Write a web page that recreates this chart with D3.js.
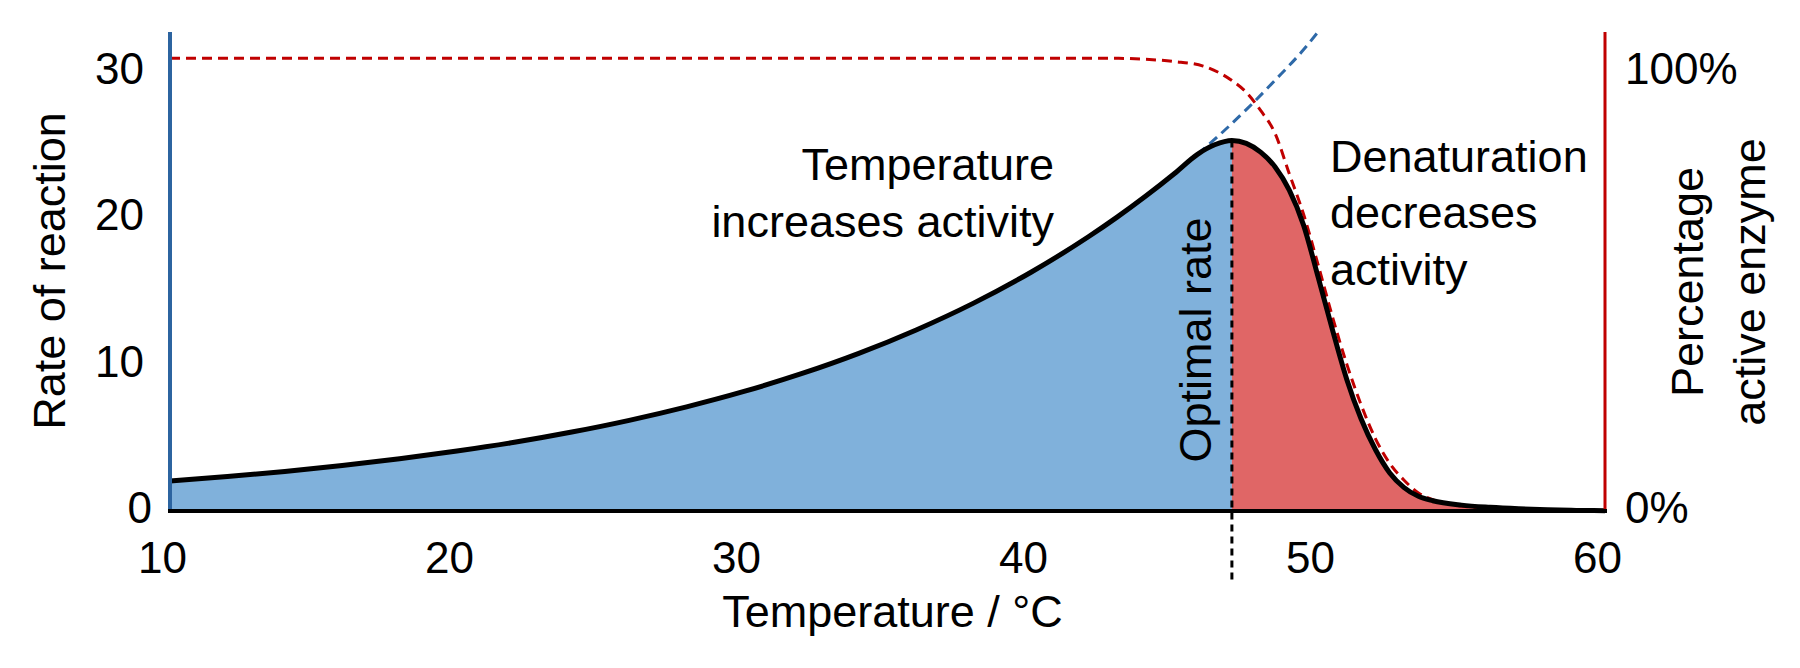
<!DOCTYPE html>
<html><head><meta charset="utf-8">
<script src="https://cdn.jsdelivr.net/npm/d3@7"></script>
<style>
body{margin:0;background:#fff}
svg{display:block}
text{font-family:"Liberation Sans",Arial,Helvetica,sans-serif;fill:#000}
</style>
</head><body><svg id="chart" width="1800" height="668"></svg>
<script>
// ---- data ----
const temperature = [10,12,14,16,18,20,22,24,26,28,30,32,34,36,38,40,42,43,44,45,45.8,46.4,47,47.5,48,48.5,49,49.5,50,50.5,51,51.5,52,52.5,53,53.5,54,55,56,57,58,59,60];
const rate        = [2.05,2.35,2.7,3.1,3.56,4.09,4.69,5.39,6.19,7.11,8.16,9.37,10.76,12.36,14.19,16.3,18.72,20.06,21.5,23.04,24.35,25.0,25.3,25.1,24.5,23.5,21.9,19.5,16.0,12.4,9.0,6.3,4.2,2.6,1.6,1.0,0.7,0.4,0.25,0.15,0.08,0.04,0.02];
const extrapTemp  = [45.8,46.5,47.5,48.5,49.5,50.0];
const extrapRate  = [24.35,25.55,27.4,29.4,31.5,32.7];
const activeTemp  = [10,43,44,45,46,47,47.5,48,48.5,49,49.5,50,50.5,51,51.5,52,52.5,53,53.5,54,55,56,57,58,60];
const activePct   = [100,100,99.8,99.3,98.3,95.1,92.5,88.5,83.5,74.5,65.5,54.5,43,32.5,23.5,16,10.5,6.8,4,2.5,1.1,0.5,0.25,0.1,0];
const optimalTemp = 47;
const xTicks = [10,20,30,40,50,60];
const yTicks = [0,10,20,30];
const rightTickLabels = ["0%","100%"];

// ---- layout ----
const W = 1800, H = 668;
const m = {left:170, right:195, top:32, bottom:157};
const svg = d3.select("#chart");
const FONT = '"Liberation Sans",Arial,sans-serif';

const x = d3.scaleLinear().domain([10,60]).range([m.left, W - m.right]);
const y = d3.scaleLinear().domain([0,32.7]).range([H - m.bottom, m.top]);
const yR = d3.scaleLinear().domain([0,100]).range([y(0), y(30.9)]);

const pts = temperature.map((t,i)=>({t, r:rate[i]}));
const left = pts.filter(d=>d.t<=optimalTemp);
const right = pts.filter(d=>d.t>=optimalTemp);

const area = d3.area().x(d=>x(d.t)).y0(y(0)).y1(d=>y(d.r)).curve(d3.curveMonotoneX);
const line = d3.line().x(d=>x(d.t)).y(d=>y(d.r)).curve(d3.curveMonotoneX);

svg.append("path").datum(left).attr("d", area).attr("fill", "#80b1db");
svg.append("path").datum(right).attr("d", area).attr("fill", "#e06666");

// optimal dashed vertical
const peak = pts.find(d=>d.t===optimalTemp);
svg.append("line")
  .attr("x1", x(optimalTemp)).attr("x2", x(optimalTemp))
  .attr("y1", y(peak.r)).attr("y2", y(-4.8))
  .attr("stroke", "#000").attr("stroke-width", 3).attr("stroke-dasharray", "7,5");

// percentage active enzyme (red dashed)
const act = activeTemp.map((t,i)=>({t, p:activePct[i]}));
svg.append("path").datum(act)
  .attr("d", d3.line().x(d=>x(d.t)).y(d=>yR(d.p)).curve(d3.curveMonotoneX))
  .attr("fill","none").attr("stroke","#c00000").attr("stroke-width",3).attr("stroke-dasharray","10,6");

// extrapolated rate (blue dashed)
const ext = extrapTemp.map((t,i)=>({t, r:extrapRate[i]}));
svg.append("path").datum(ext)
  .attr("d", line)
  .attr("fill","none").attr("stroke","#2e69a8").attr("stroke-width",3).attr("stroke-dasharray","10,6");

// main curve
svg.append("path").datum(pts).attr("d", line)
  .attr("fill","none").attr("stroke","#000").attr("stroke-width",5).attr("stroke-linejoin","round");

// axes lines
svg.append("line").attr("x1", x(10)).attr("x2", x(10)).attr("y1", y(32.7)).attr("y2", y(0))
  .attr("stroke","#2c64a0").attr("stroke-width",4);
svg.append("line").attr("x1", x(60)).attr("x2", x(60)).attr("y1", y(32.7)).attr("y2", y(0))
  .attr("stroke","#c00000").attr("stroke-width",3);
svg.append("line").attr("x1", x(10)-2).attr("x2", x(60)+2).attr("y1", y(0)).attr("y2", y(0))
  .attr("stroke","#000").attr("stroke-width",4);

// tick labels via d3 axes
const gx = svg.append("g").attr("transform", `translate(0,${y(0)})`)
  .call(d3.axisBottom(x).tickValues(xTicks).tickSize(0).tickFormat(d3.format("d")));
gx.select(".domain").remove();
gx.selectAll("text").attr("y", 62).attr("dy", 0).attr("dx", -8)
  .style("font-size","44px").style("font-family",FONT).attr("fill","#000");

const gy = svg.append("g").attr("transform", `translate(${x(10)},0)`)
  .call(d3.axisLeft(y).tickValues(yTicks).tickSize(0).tickPadding(26).tickFormat(d3.format("d")));
gy.select(".domain").remove();
gy.selectAll("text").attr("dy", "0.27em").attr("dx", d => d === 0 ? 8 : 0)
  .style("font-size","44px").style("font-family",FONT).attr("fill","#000");

const gr = svg.append("g").attr("transform", `translate(${x(60)},0)`)
  .call(d3.axisRight(y).tickValues([0,30]).tickSize(0).tickPadding(20).tickFormat((d,i)=>rightTickLabels[i]));
gr.select(".domain").remove();
gr.selectAll("text").attr("dy", "0.27em")
  .style("font-size","44px").style("font-family",FONT).attr("fill","#000");

// axis titles
svg.append("text").attr("transform","translate(65,271) rotate(-90)")
  .attr("text-anchor","middle").style("font-size","45px").text("Rate of reaction");
svg.append("text").attr("x", (x(10)+x(60))/2 + 5).attr("y", 627)
  .attr("text-anchor","middle").style("font-size","45px").text("Temperature / °C");
const rt = svg.append("text").attr("transform","translate(0,282) rotate(-90)")
  .attr("text-anchor","middle").style("font-size","45px");
rt.append("tspan").attr("x",0).attr("y",1703).text("Percentage");
rt.append("tspan").attr("x",0).attr("y",1765).text("active enzyme");

// annotations
const a1 = svg.append("text").attr("text-anchor","end").style("font-size","45px");
a1.append("tspan").attr("x",1054).attr("y",180).text("Temperature");
a1.append("tspan").attr("x",1054).attr("y",237).text("increases activity");

const a2 = svg.append("text").attr("text-anchor","start").style("font-size","45px");
a2.append("tspan").attr("x",1330).attr("y",172).text("Denaturation");
a2.append("tspan").attr("x",1330).attr("y",228).text("decreases");
a2.append("tspan").attr("x",1330).attr("y",285).text("activity");

svg.append("text").attr("transform",`translate(${x(optimalTemp)-21},340) rotate(-90)`)
  .attr("text-anchor","middle").style("font-size","45px").text("Optimal rate");
</script>
</body></html>
